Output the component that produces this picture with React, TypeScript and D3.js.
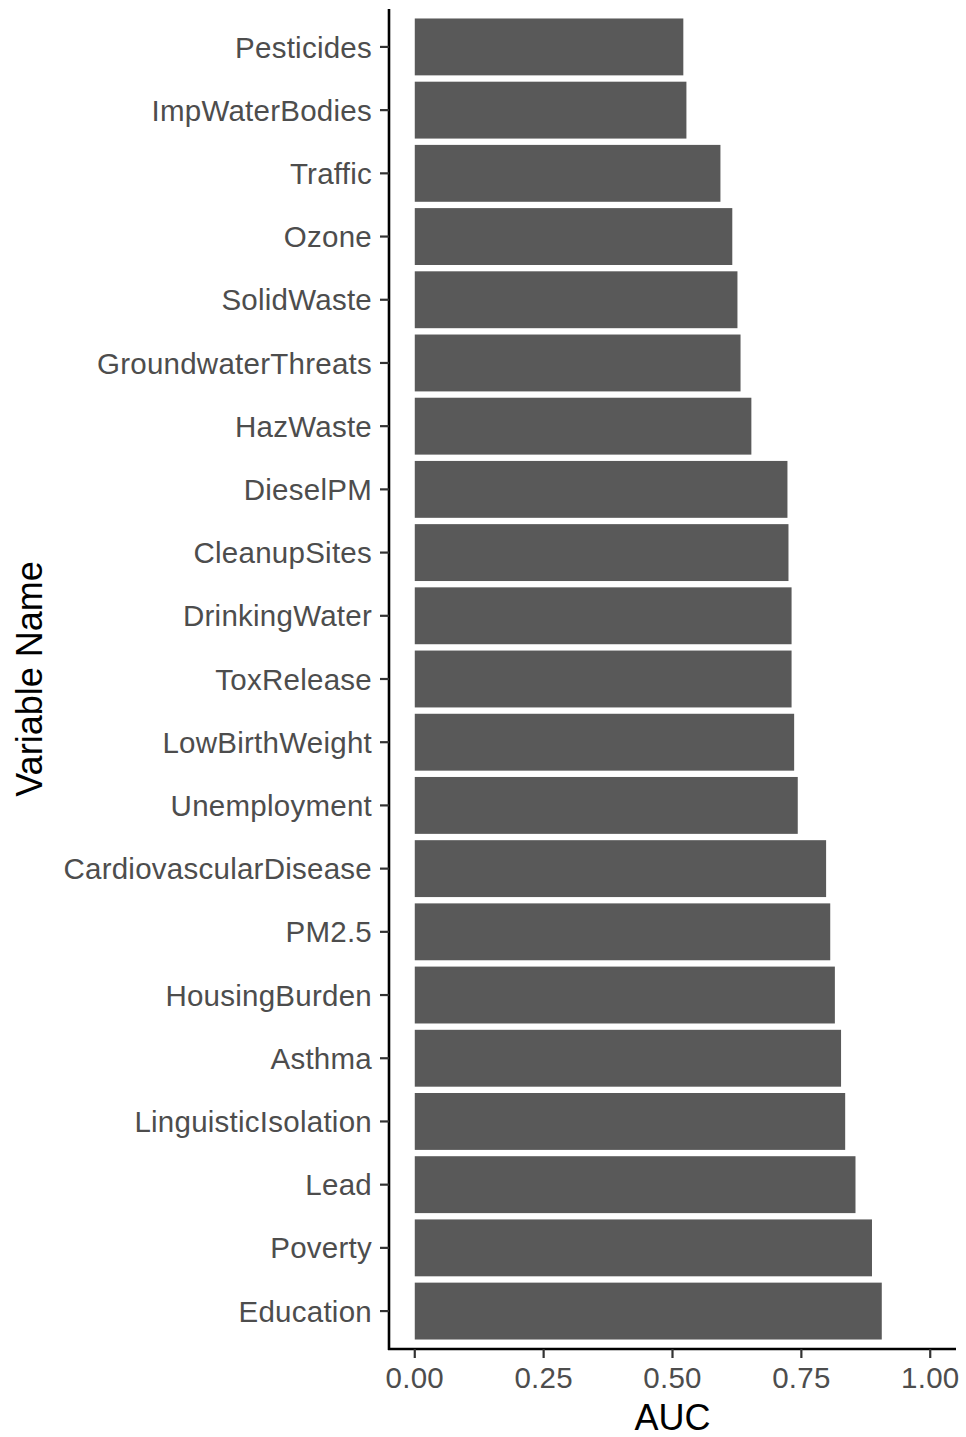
import * as d3 from 'd3';

const variables = [
  'Pesticides',
  'ImpWaterBodies',
  'Traffic',
  'Ozone',
  'SolidWaste',
  'GroundwaterThreats',
  'HazWaste',
  'DieselPM',
  'CleanupSites',
  'DrinkingWater',
  'ToxRelease',
  'LowBirthWeight',
  'Unemployment',
  'CardiovascularDisease',
  'PM2.5',
  'HousingBurden',
  'Asthma',
  'LinguisticIsolation',
  'Lead',
  'Poverty',
  'Education',
];

const aucValues = [
  0.521, 0.527, 0.593, 0.616, 0.626, 0.632, 0.653, 0.723, 0.725, 0.731, 0.731,
  0.736, 0.743, 0.798, 0.806, 0.815, 0.827, 0.835, 0.855, 0.887, 0.906,
];

const xTicks = [0, 0.25, 0.5, 0.75, 1];

const width = 966;
const height = 1437;
const margins = { top: 9, right: 10, bottom: 88, left: 389 };
const font = '"Liberation Sans", Arial, Helvetica, sans-serif';

const App = () => {
  const xScale = d3
    .scaleLinear()
    .domain([-0.05, 1.05])
    .range([margins.left, width - margins.right]);

  // ggplot style discrete axis: 0.6 units of padding on both ends, bars 0.9 wide
  const n = variables.length;
  const plotTop = margins.top;
  const plotBottom = height - margins.bottom;
  const step = (plotBottom - plotTop) / (n - 1 + 1.2);
  const yScale = d3
    .scalePoint<string>()
    .domain(variables)
    .range([plotTop + 0.6 * step, plotBottom - 0.6 * step]);
  const barH = step * 0.9;

  return (
    <svg
      width={width}
      height={height}
      viewBox={`0 0 ${width} ${height}`}
      style={{ position: 'absolute', left: 0, top: 0, background: '#fff' }}
      fontFamily={font}
    >
      {variables.map((v, i) => (
        <rect
          key={v}
          x={xScale(0)}
          y={(yScale(v) || 0) - barH / 2}
          width={xScale(aucValues[i]) - xScale(0)}
          height={barH}
          fill="#595959"
        />
      ))}

      {/* y axis */}
      <line
        x1={margins.left}
        x2={margins.left}
        y1={plotTop}
        y2={plotBottom + 1}
        stroke="#000"
        strokeWidth={2.6}
      />
      {variables.map(v => (
        <g key={v} transform={`translate(0, ${yScale(v)})`}>
          <line x1={margins.left - 9} x2={margins.left} stroke="#333" strokeWidth={2.2} />
          <text
            x={margins.left - 17}
            dy="0.36em"
            textAnchor="end"
            fontSize={29.5}
            letterSpacing={0.25}
            fill="#4d4d4d"
          >
            {v}
          </text>
        </g>
      ))}

      {/* x axis */}
      <line
        x1={margins.left - 1}
        x2={width - margins.right}
        y1={plotBottom}
        y2={plotBottom}
        stroke="#000"
        strokeWidth={2.6}
      />
      {xTicks.map(t => (
        <g key={t} transform={`translate(${xScale(t)}, ${plotBottom})`}>
          <line y1={0} y2={9} stroke="#333" strokeWidth={2.2} />
          <text y={39} textAnchor="middle" fontSize={29.5} letterSpacing={0.25} fill="#4d4d4d">
            {t.toFixed(2)}
          </text>
        </g>
      ))}

      <text
        x={(xScale(-0.05) + xScale(1.05)) / 2}
        y={1430}
        textAnchor="middle"
        fontSize={36}
        fill="#000"
      >
        AUC
      </text>
      <text
        transform={`translate(42, ${(plotTop + plotBottom) / 2}) rotate(-90)`}
        textAnchor="middle"
        fontSize={36}
        fill="#000"
      >
        Variable Name
      </text>
    </svg>
  );
};

export default App;
